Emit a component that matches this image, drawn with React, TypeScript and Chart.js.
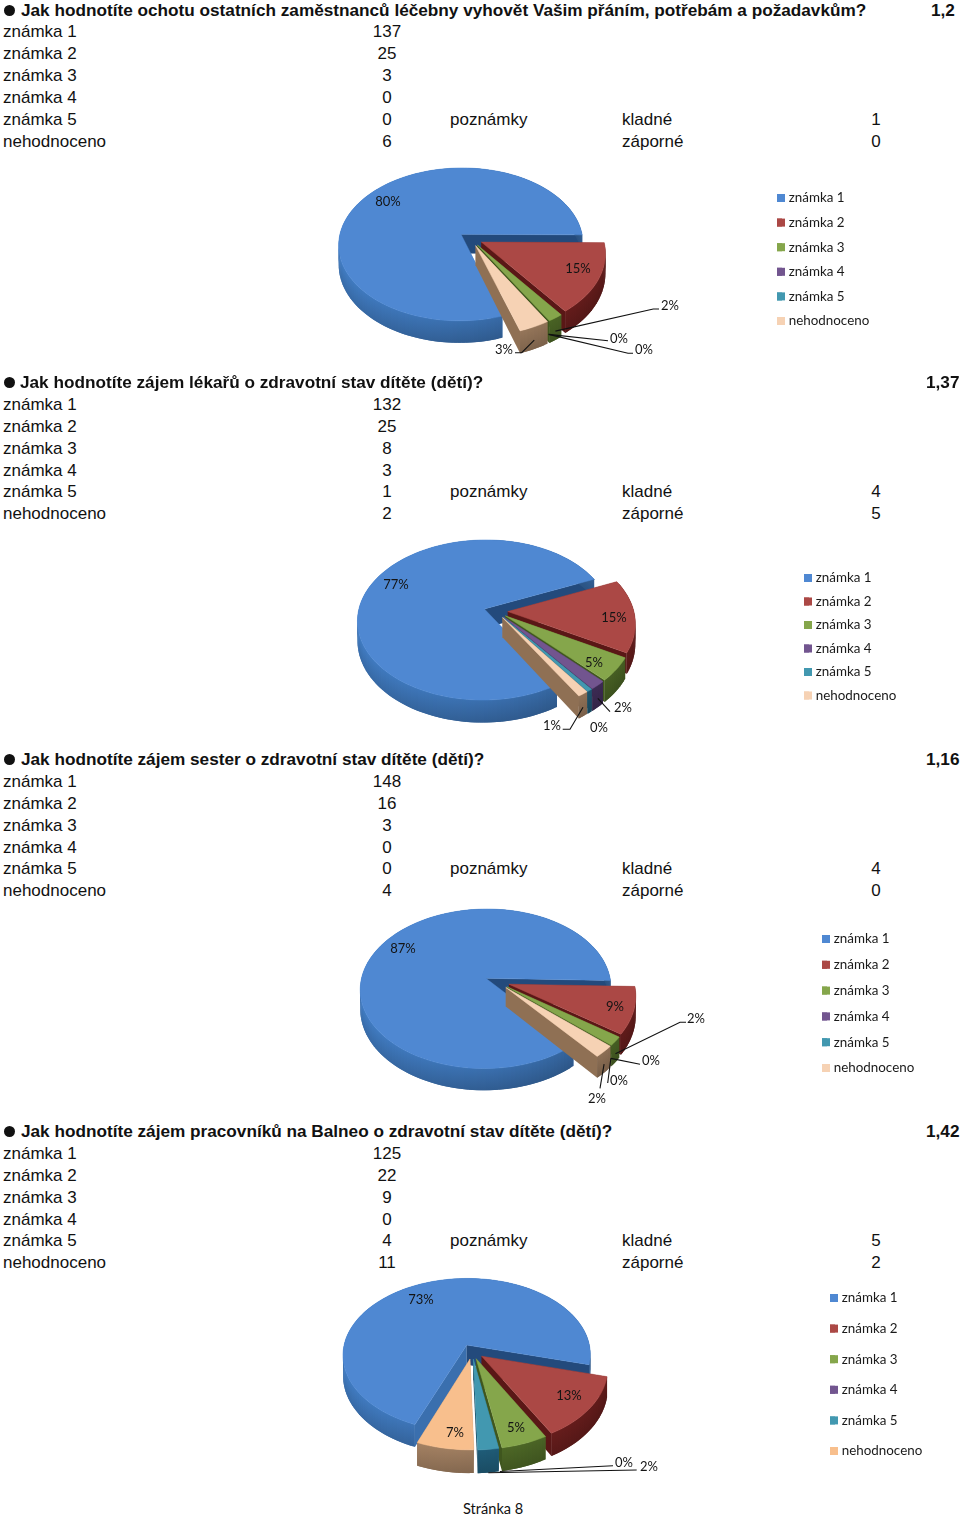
import React, { useEffect, useRef } from "react";
import { Chart, registerables } from "chart.js";

Chart.register(...registerables);

const CATEGORIES = ["známka 1", "známka 2", "známka 3", "známka 4", "známka 5", "nehodnoceno"];

const TITLE_1 = "Jak hodnotíte ochotu ostatních zaměstnanců léčebny vyhovět Vašim přáním, potřebám a požadavkům?";
const TITLE_2 = "Jak hodnotíte zájem lékařů o zdravotní stav dítěte (dětí)?";
const TITLE_3 = "Jak hodnotíte zájem sester o zdravotní stav dítěte (dětí)?";
const TITLE_4 = "Jak hodnotíte zájem pracovníků na Balneo o zdravotní stav dítěte (dětí)?";

const SCORE_1 = "1,2";
const SCORE_2 = "1,37";
const SCORE_3 = "1,16";
const SCORE_4 = "1,42";

const VALUES_1 = [137, 25, 3, 0, 0, 6];
const VALUES_2 = [132, 25, 8, 3, 1, 2];
const VALUES_3 = [148, 16, 3, 0, 0, 4];
const VALUES_4 = [125, 22, 9, 0, 4, 11];

const PERCENT_1 = ["80%", "15%", "2%", "0%", "0%", "3%"];
const PERCENT_2 = ["77%", "15%", "5%", "2%", "0%", "1%"];
const PERCENT_3 = ["87%", "9%", "2%", "0%", "0%", "2%"];
const PERCENT_4 = ["73%", "13%", "5%", "0%", "2%", "7%"];

const NOTES_1 = [1, 0];
const NOTES_2 = [4, 5];
const NOTES_3 = [4, 0];
const NOTES_4 = [5, 2];

const TOP_COLORS = ["#4f88d2", "#ab4845", "#85a64b", "#72558f", "#4298b0", "#f6d2b4"];
const TOP_COLORS_4 = ["#4f88d2", "#ab4845", "#85a64b", "#72558f", "#4298b0", "#f8bf8d"];
const SIDE_COLORS = ["#3a6fae", "#6e1f1e", "#4f6a27", "#432f5c", "#1f5c78", "#9c7b5e"];
const WALL_COLORS = ["#234a7c", "#5a1716", "#3f561e", "#35244a", "#184c64", "#8f7054"];

const LEGEND_FONT = 13.4;
const PERCENT_FONT = 13;

type Leader = { i: number; pts: number[][] };
type Layout = {
  title: string; score: string; values: number[]; percent: string[]; notes: number[];
  top: number[];
  titleX: number; scoreX: number;
  canvasTop: number; canvasH: number;
  cx: number; cy: number; radius: number; rotation: number; k: number; p: number; h: number; offset: number;
  colors: string[];
  legendBoxX: number; legendY: number; legendStep: number;
  labelPos: number[][]; leaders: Leader[]; leaderDepth: number;
};

const LAYOUTS: Layout[] = [
  {
    title: TITLE_1, score: SCORE_1, values: VALUES_1, percent: PERCENT_1, notes: NOTES_1,
    top: [10, 31, 53, 75, 97, 119, 141], titleX: 21, scoreX: 931,
    canvasTop: 155, canvasH: 218,
    cx: 470.6, cy: 238.7, radius: 122, rotation: 162, k: 0.625, p: 0.00109, h: 19.3, offset: 12,
    colors: TOP_COLORS,
    legendBoxX: 777, legendY: 198, legendStep: 24.6,
    labelPos: [[388, 202], [578, 269], [670, 306], [619, 339], [644, 350], [504, 350]],
    leaders: [
      { i: 2, pts: [[653.3, 309], [659, 309]] },
      { i: 3, pts: [[608, 340.7]] },
      { i: 4, pts: [[628, 353.3], [633, 353.3]] },
      { i: 5, pts: [[521.7, 352.7], [515, 352.7]] },
    ],
    leaderDepth: 0.6,
  },
  {
    title: TITLE_2, score: SCORE_2, values: VALUES_2, percent: PERCENT_2, notes: NOTES_2,
    top: [382, 404, 426, 448, 470, 491, 513], titleX: 20, scoreX: 926,
    canvasTop: 528, canvasH: 207,
    cx: 495.8, cy: 611.2, radius: 126, rotation: 148.6, k: 0.628, p: 0.0011, h: 19.5, offset: 12,
    colors: TOP_COLORS,
    legendBoxX: 804, legendY: 578, legendStep: 23.5,
    labelPos: [[396, 585], [614, 618], [594, 663], [623, 708], [599, 728], [552, 726]],
    leaders: [
      { i: 3, pts: [[610, 711.7]] },
      { i: 5, pts: [[570, 729.3], [562.7, 729.3]] },
    ],
    leaderDepth: 0.6,
  },
  {
    title: TITLE_3, score: SCORE_3, values: VALUES_3, percent: PERCENT_3, notes: NOTES_3,
    top: [759, 781, 803, 825, 847, 868, 890], titleX: 21, scoreX: 926,
    canvasTop: 900, canvasH: 210,
    cx: 497, cy: 981.7, radius: 125, rotation: 140, k: 0.634, p: 0.00106, h: 19, offset: 12.5,
    colors: TOP_COLORS,
    legendBoxX: 822, legendY: 939, legendStep: 25.8,
    labelPos: [[403, 949], [615, 1007], [696, 1019], [651, 1061], [619, 1081], [597, 1099]],
    leaders: [
      { i: 2, pts: [[680, 1022.3], [686, 1022.3]] },
      { i: 3, pts: [[640, 1064.3]] },
      { i: 4, pts: [[607.7, 1083]] },
      { i: 5, pts: [[600, 1088.3]] },
    ],
    leaderDepth: 0.6,
  },
  {
    title: TITLE_4, score: SCORE_4, values: VALUES_4, percent: PERCENT_4, notes: NOTES_4,
    top: [1131, 1153, 1175, 1197, 1219, 1240, 1262], titleX: 21, scoreX: 926,
    canvasTop: 1275, canvasH: 215,
    cx: 472.1, cy: 1351.6, radius: 124, rotation: 201.5, k: 0.62, p: 0.00105, h: 20, offset: 12,
    colors: TOP_COLORS_4,
    legendBoxX: 830, legendY: 1298, legendStep: 30.6,
    labelPos: [[421, 1300], [569, 1396], [516, 1428], [624, 1463], [649, 1467], [455, 1433]],
    leaders: [
      { i: 3, pts: [[613, 1465.7]] },
      { i: 4, pts: [[636.7, 1470]] },
    ],
    leaderDepth: 1,
  },
];

const BODY_FONT = '"Liberation Sans", Arial, sans-serif';
const CHART_FONT = 'Lato, "Open Sans", sans-serif';

function hexToRgb(hex: string) {
  const n = parseInt(hex.slice(1), 16);
  return [(n >> 16) & 255, (n >> 8) & 255, n & 255];
}
function shade(hex: string, f: number) {
  const [r, g, b] = hexToRgb(hex);
  return `rgb(${Math.min(255, Math.round(r * f))},${Math.min(255, Math.round(g * f))},${Math.min(255, Math.round(b * f))})`;
}

function tiltPlugin(l: Layout) {
  return {
    id: "tilt",
    afterLayout(chart: any) {
      const lg = chart.legend;
      const padding = l.legendStep - LEGEND_FONT;
      lg.left = l.legendBoxX - padding;
      lg.top = l.legendY - l.canvasTop - LEGEND_FONT / 2 - padding;
      lg.right = lg.left + 200;
      lg.bottom = lg.top + 600;
    },
    beforeDatasetsDraw(chart: any) {
      const ctx: CanvasRenderingContext2D = chart.ctx;
      const meta = chart.getDatasetMeta(0);
      const arcs: any[] = meta.data;
      const { k, p, h } = l;
      const cx = arcs[0].x;
      const cy = arcs[0].y;
      const project = (X: number, Y: number, d: number) => {
        const w = 1 - p * Y;
        return [cx + X / w, cy + (k * Y + d * h) / w];
      };
      const poly = (pts: number[][]) => {
        ctx.beginPath();
        pts.forEach((q, n) => (n ? ctx.lineTo(q[0], q[1]) : ctx.moveTo(q[0], q[1])));
        ctx.closePath();
      };
      const order = arcs
        .map((a, i) => ({ a, i, mid: (a.startAngle + a.endAngle) / 2 }))
        .filter((o) => o.a.endAngle - o.a.startAngle > 1e-4)
        .sort((u, v) => Math.sin(u.mid) - Math.sin(v.mid));

      ctx.save();
      for (const { a, i, mid } of order) {
        const e = a.options.offset || 0;
        const R = a.outerRadius;
        const ox = e * Math.cos(mid);
        const oy = e * Math.sin(mid);
        const steps = Math.max(2, Math.ceil((a.endAngle - a.startAngle) / 0.03));
        const ang: number[] = [];
        for (let n = 0; n <= steps; n++) ang.push(a.startAngle + ((a.endAngle - a.startAngle) * n) / steps);
        const rim = (t: number, d: number) => project(ox + R * Math.cos(t), oy + R * Math.sin(t), d);
        const apex0 = project(ox, oy, 0);
        const apex1 = project(ox, oy, 1);
        // radial walls: the wall on the start side catches the light, the end side does not
        ctx.fillStyle = SIDE_COLORS[i];
        poly([apex0, rim(a.startAngle, 0), rim(a.startAngle, 1), apex1]);
        ctx.fill();
        ctx.fillStyle = WALL_COLORS[i];
        poly([apex0, rim(a.endAngle, 0), rim(a.endAngle, 1), apex1]);
        ctx.fill();
        // rim wall: overlapping quads, so no seams show between them
        const side = SIDE_COLORS[i];
        for (let n = 0; n < steps; n++) {
          const t0 = ang[n];
          const t1 = ang[Math.min(n + 2, steps)];
          const tm = (ang[n] + ang[n + 1]) / 2;
          const A = rim(t0, 0), B = rim(t1, 0), C = rim(t1, 1), D = rim(t0, 1);
          const f = 1 - 0.14 * Math.cos(tm) - 0.05;
          const g = ctx.createLinearGradient(0, Math.min(A[1], B[1]), 0, Math.max(C[1], D[1]));
          g.addColorStop(0, shade(side, f * 1.06));
          g.addColorStop(1, shade(side, f * 0.88));
          ctx.fillStyle = g;
          poly([A, B, C, D]);
          ctx.fill();
        }
        // top face
        const top = [apex0, ...ang.map((t) => rim(t, 0))];
        ctx.fillStyle = l.colors[i];
        ctx.strokeStyle = l.colors[i];
        ctx.lineWidth = 0.5;
        poly(top);
        ctx.fill();
        ctx.stroke();
      }

      // leader lines, from the rim of the slice to the label's position
      ctx.strokeStyle = "#111";
      ctx.lineWidth = 1.1;
      for (const ld of l.leaders) {
        const a = arcs[ld.i];
        const mid = (a.startAngle + a.endAngle) / 2;
        const e = a.options.offset || 0;
        const r = a.outerRadius + e;
        const s = project(r * Math.cos(mid), r * Math.sin(mid), l.leaderDepth);
        ctx.beginPath();
        ctx.moveTo(s[0], s[1]);
        ld.pts.forEach((q) => ctx.lineTo(q[0], q[1] - l.canvasTop));
        ctx.stroke();
      }

      // percent labels
      ctx.fillStyle = "#141414";
      ctx.font = `${PERCENT_FONT}px ${CHART_FONT}`;
      ctx.textAlign = "center";
      ctx.textBaseline = "middle";
      l.percent.forEach((txt, i) => {
        const q = l.labelPos[i];
        ctx.fillText(txt, q[0], q[1] - l.canvasTop);
      });

      // square legend keys (native keys widened to the reference's 8 px)
      l.colors.forEach((c, i) => {
        ctx.fillStyle = c;
        ctx.fillRect(l.legendBoxX, l.legendY - l.canvasTop - 4 + i * l.legendStep, 8, 8);
      });
      ctx.restore();
      return false;
    },
  };
}

function Pie({ layout }: { layout: Layout }) {
  const ref = useRef<HTMLCanvasElement>(null);
  useEffect(() => {
    const l = layout;
    const dcx = 2 * l.cx - 960;
    const dcy = 2 * (l.cy - l.canvasTop) - l.canvasH;
    const chart = new Chart(ref.current!, {
      type: "pie",
      data: {
        labels: CATEGORIES,
        datasets: [{ data: l.values, backgroundColor: l.colors, borderWidth: 0, offset: l.offset }],
      },
      options: {
        responsive: false,
        animation: false,
        rotation: l.rotation,
        radius: l.radius,
        layout: {
          padding: {
            left: Math.max(dcx, 0), right: Math.max(-dcx, 0),
            top: Math.max(dcy, 0), bottom: Math.max(-dcy, 0),
          },
        },
        plugins: {
          tooltip: { enabled: false },
          legend: {
            display: true,
            position: "chartArea",
            align: "start",
            maxHeight: 500,
            labels: {
              boxWidth: 5,
              boxHeight: 8,
              padding: l.legendStep - LEGEND_FONT,
              color: "#1a1a1a",
              font: { family: CHART_FONT, size: LEGEND_FONT },
            },
          },
        },
      } as any,
      plugins: [tiltPlugin(l)],
    } as any);
    return () => chart.destroy();
  }, [layout]);
  return (
    <canvas
      ref={ref}
      width={960}
      height={layout.canvasH}
      style={{ position: "absolute", left: 0, top: layout.canvasTop, width: 960, height: layout.canvasH, display: "block" }}
    />
  );
}

function T({ x, y, children, bold, center }: { x: number; y: number; children: React.ReactNode; bold?: boolean; center?: boolean }) {
  return (
    <div
      style={{
        position: "absolute",
        left: center ? x - 40 : x,
        width: center ? 80 : undefined,
        top: bold ? y - 11 : y - 10,
        height: 22,
        lineHeight: "22px",
        fontFamily: BODY_FONT,
        fontSize: bold ? 17.2 : 17,
        fontWeight: bold ? 700 : 400,
        color: "#111",
        whiteSpace: "nowrap",
        textAlign: center ? "center" : "left",
      }}
    >
      {children}
    </div>
  );
}

export default function App() {
  useEffect(() => {
    document.body.style.margin = "0";
    document.body.style.background = "#fff";
  }, []);
  return (
    <div style={{ position: "relative", width: 960, height: 1515, overflow: "hidden", background: "#fff" }}>
      {LAYOUTS.map((l, s) => (
        <React.Fragment key={s}>
          <div style={{ position: "absolute", left: 4, top: l.top[0] - 5.5, width: 11, height: 11, borderRadius: "50%", background: "#111" }} />
          <T x={l.titleX} y={l.top[0]} bold>{l.title}</T>
          <T x={l.scoreX} y={l.top[0]} bold>{l.score}</T>
          {CATEGORIES.map((c, i) => (
            <React.Fragment key={c}>
              <T x={3} y={l.top[i + 1]}>{c}</T>
              <T x={387} y={l.top[i + 1]} center>{l.values[i]}</T>
            </React.Fragment>
          ))}
          <T x={450} y={l.top[5]}>poznámky</T>
          <T x={622} y={l.top[5]}>kladné</T>
          <T x={876} y={l.top[5]} center>{l.notes[0]}</T>
          <T x={622} y={l.top[6]}>záporné</T>
          <T x={876} y={l.top[6]} center>{l.notes[1]}</T>
          <Pie layout={l} />
        </React.Fragment>
      ))}
      <div style={{ position: "absolute", left: 463, top: 1499, lineHeight: "20px", fontFamily: CHART_FONT, fontSize: 14.6, color: "#111" }}>Stránka 8</div>
    </div>
  );
}
